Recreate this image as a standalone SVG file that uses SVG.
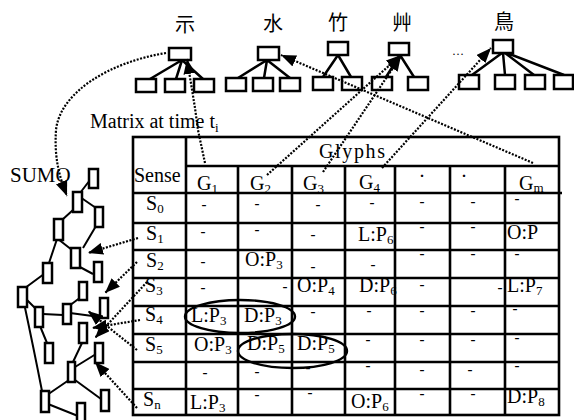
<svg xmlns="http://www.w3.org/2000/svg" width="574" height="420" viewBox="0 0 574 420">
  <style>
    .box { fill: #fff; stroke: #000; stroke-width: 2.5; }
    .edge { stroke: #000; stroke-width: 2.5; fill: none; }
    .tedge { stroke: #000; stroke-width: 2; fill: none; }
    .dot { stroke: #000; stroke-width: 2.2; stroke-dasharray: 2 1.5; fill: none; }
    .grid { stroke: #000; stroke-width: 2.6; fill: none; }
    .ring { stroke: #000; stroke-width: 2.4; fill: none; }
    text { font-family: "Liberation Serif", "Times New Roman", serif; fill: #000; }
    .t { font-size: 20px; }
    .sub { font-size: 13px; }
    .dash { font-size: 15px; font-weight: bold; text-anchor: middle; }
    .han { font-family: "Noto Sans CJK TC", "Noto Sans CJK SC", sans-serif; font-size: 20px; text-anchor: middle; }
  </style>
  <defs>
    <marker id="arrow" markerUnits="userSpaceOnUse" markerWidth="16" markerHeight="12" refX="15" refY="6" orient="auto">
      <path d="M0,0 L15,6 L0,12 z" fill="#000"/>
    </marker>
  </defs>

  <!-- glyph decomposition trees -->
  <g id="tree-shi">
    <text class="han" x="185" y="32">示</text>
    <path class="edge" d="M182,60 L150,79 M182,60 L176,79 M182,60 L203,79"/>
    <rect class="box" x="169" y="48" width="22" height="12"/>
    <rect class="box" x="136" y="79" width="20" height="13"/>
    <rect class="box" x="165" y="79" width="20" height="13"/>
    <rect class="box" x="194" y="79" width="20" height="13"/>
  </g>
  <g id="tree-shui">
    <text class="han" x="273" y="31">水</text>
    <path class="edge" d="M267,60 L238,78 M267,60 L264,78 M267,60 L290,78"/>
    <rect class="box" x="258" y="47" width="21" height="13"/>
    <rect class="box" x="226" y="78" width="20" height="13"/>
    <rect class="box" x="253" y="78" width="20" height="13"/>
    <rect class="box" x="280" y="78" width="20" height="13"/>
  </g>
  <g id="tree-zhu">
    <text class="han" x="338" y="30">竹</text>
    <path class="edge" d="M338,55 L323,77 M338,55 L351,77"/>
    <rect class="box" x="328" y="42" width="20" height="13"/>
    <rect class="box" x="313" y="77" width="20" height="13"/>
    <rect class="box" x="342" y="77" width="20" height="13"/>
  </g>
  <g id="tree-cao">
    <text class="han" x="402" y="30">艸</text>
    <path class="edge" d="M400,55 L386,77 M400,55 L414,77"/>
    <rect class="box" x="389" y="43" width="20" height="12"/>
    <rect class="box" x="372" y="77" width="20" height="13"/>
    <rect class="box" x="408" y="77" width="20" height="13"/>
  </g>
  <text x="452" y="55" style="font-size:12px">…</text>
  <g id="tree-niao">
    <text class="han" x="504" y="29">鳥</text>
    <path class="edge" d="M502,53 L472,75 M503,53 L505,75 M505,53 L534,75 M507,53 L564,75"/>
    <rect class="box" x="493" y="40" width="20" height="13"/>
    <rect class="box" x="459" y="75" width="20" height="14"/>
    <rect class="box" x="495" y="75" width="20" height="14"/>
    <rect class="box" x="525" y="75" width="20" height="14"/>
    <rect class="box" x="554" y="75" width="19" height="14"/>
  </g>

  <!-- SUMO ontology fragment -->
  <g id="sumo">
    <text x="10" y="182" style="font-size:21px">SUMO</text>
    <path class="tedge" d="M90,180 L80,193 M80,197 L96,208 M73,210 L62,220 M96,226 L83,248 M58,239 L72,250 M78,266 L93,274 M57,239 L49,263 M44,274 L25,288 M25,298 L35,308 M43,314 L63,315 M70,313 L100,317 M81,297 L69,306 M40,326 L47,343 M82,343 L73,362 M96,354 L75,367 M69,380 L47,395 M75,380 L101,399 M24,303 Q34,350 42,391 M48,404 L78,416"/>
    <rect class="box" x="89" y="169" width="9" height="19"/>
    <rect class="box" x="73" y="192" width="9" height="20"/>
    <rect class="box" x="95" y="207" width="8" height="20"/>
    <rect class="box" x="54" y="219" width="9" height="21"/>
    <rect class="box" x="71" y="248" width="9" height="20"/>
    <rect class="box" x="94" y="262" width="8" height="20"/>
    <rect class="box" x="43" y="263" width="9" height="20"/>
    <rect class="box" x="18" y="287" width="9" height="20"/>
    <rect class="box" x="79" y="282" width="8" height="18"/>
    <rect class="box" x="100" y="298" width="8" height="20"/>
    <rect class="box" x="35" y="307" width="8" height="20"/>
    <rect class="box" x="63" y="304" width="8" height="20"/>
    <rect class="box" x="79" y="323" width="8" height="20"/>
    <rect class="box" x="45" y="343" width="8" height="20"/>
    <rect class="box" x="95" y="343" width="8" height="20"/>
    <rect class="box" x="68" y="362" width="7" height="20"/>
    <rect class="box" x="41" y="391" width="8" height="21"/>
    <rect class="box" x="101" y="390" width="8" height="21"/>
    <rect class="box" x="77" y="403" width="8" height="19"/>
  </g>

  <!-- sense x glyph matrix -->
  <g id="matrix">
    <text class="t" x="90" y="128">Matrix at time t<tspan class="sub" dy="4">i</tspan></text>
    <rect class="grid" x="133" y="137" width="426" height="278"/>
    <path class="grid" d="M186,166 L559,166 M133,193 L562,193 M133,223 L559,223 M133,250 L559,250 M133,278 L559,278 M133,306 L559,306 M133,334 L559,334 M133,362 L559,362 M133,389 L559,389 M186,137 L186,415 M238,166 L238,415 M292,166 L292,415 M345,166 L345,415 M395,166 L395,415 M450,166 L450,415 M505,166 L505,415"/>

    <text class="t" x="134" y="182">Sense</text>
    <text class="t" x="319" y="158" textLength="66">Glyphs</text>
    <text class="t" x="197" y="190">G<tspan class="sub" dy="3">1</tspan></text>
    <text class="t" x="250" y="190">G<tspan class="sub" dy="3">2</tspan></text>
    <text class="t" x="303" y="190">G<tspan class="sub" dy="3">3</tspan></text>
    <text class="t" x="359" y="189">G<tspan class="sub" dy="3">4</tspan></text>
    <text class="dash" x="422" y="181">·</text>
    <text class="dash" x="464" y="181">·</text>
    <text class="t" x="519" y="190">G<tspan class="sub" dy="2">m</tspan></text>

    <text class="t" x="146" y="210">S<tspan class="sub" dy="3">0</tspan></text>
    <text class="t" x="146" y="240">S<tspan class="sub" dy="3">1</tspan></text>
    <text class="t" x="146" y="267">S<tspan class="sub" dy="3">2</tspan></text>
    <text class="t" x="145" y="292">S<tspan class="sub" dy="3">3</tspan></text>
    <text class="t" x="145" y="321">S<tspan class="sub" dy="3">4</tspan></text>
    <text class="t" x="145" y="351">S<tspan class="sub" dy="3">5</tspan></text>
    <text class="t" x="143" y="406">S<tspan class="sub" dy="3">n</tspan></text>

    <text class="t" x="358" y="241">L:P<tspan class="sub" dy="3">6</tspan></text>
    <text class="t" x="507" y="239">O:P</text>
    <text class="t" x="245" y="266">O:P<tspan class="sub" dy="3">3</tspan></text>
    <text class="t" x="297" y="292">O:P<tspan class="sub" dy="3">4</tspan></text>
    <text class="t" x="359" y="292">D:P<tspan class="sub" dy="3">6</tspan></text>
    <text class="t" x="507" y="292">L:P<tspan class="sub" dy="3">7</tspan></text>
    <text class="t" x="191" y="322">L:P<tspan class="sub" dy="3">3</tspan></text>
    <text class="t" x="244" y="322">D:P<tspan class="sub" dy="3">3</tspan></text>
    <text class="t" x="194" y="351">O:P<tspan class="sub" dy="3">3</tspan></text>
    <text class="t" x="247" y="350">D:P<tspan class="sub" dy="3">5</tspan></text>
    <text class="t" x="297" y="350">D:P<tspan class="sub" dy="3">5</tspan></text>
    <text class="t" x="190" y="409">L:P<tspan class="sub" dy="3">3</tspan></text>
    <text class="t" x="351" y="408">O:P<tspan class="sub" dy="3">6</tspan></text>
    <text class="t" x="507" y="403">D:P<tspan class="sub" dy="3">8</tspan></text>

    <!-- empty cells -->
    <text class="dash" x="204" y="209">-</text>
    <text class="dash" x="257" y="208">-</text>
    <text class="dash" x="318" y="209">-</text>
    <text class="dash" x="372" y="207">-</text>
    <text class="dash" x="422" y="206">-</text>
    <text class="dash" x="473" y="206">-</text>
    <text class="dash" x="517" y="203">-</text>

    <text class="dash" x="203" y="236">-</text>
    <text class="dash" x="257" y="234">-</text>
    <text class="dash" x="313" y="239">-</text>
    <text class="dash" x="422" y="231">-</text>
    <text class="dash" x="473" y="231">-</text>

    <text class="dash" x="203" y="266">-</text>
    <text class="dash" x="313" y="271">-</text>
    <text class="dash" x="373" y="269">-</text>
    <text class="dash" x="422" y="258">-</text>
    <text class="dash" x="473" y="258">-</text>
    <text class="dash" x="517" y="258">-</text>

    <text class="dash" x="203" y="292">-</text>
    <text class="dash" x="285" y="291">-</text>
    <text class="dash" x="422" y="289">-</text>
    <text class="dash" x="500" y="292">-</text>

    <text class="dash" x="313" y="316">-</text>
    <text class="dash" x="369" y="315">-</text>
    <text class="dash" x="422" y="315">-</text>
    <text class="dash" x="473" y="315">-</text>
    <text class="dash" x="515" y="313">-</text>

    <text class="dash" x="368" y="344">-</text>
    <text class="dash" x="422" y="344">-</text>
    <text class="dash" x="473" y="344">-</text>
    <text class="dash" x="517" y="342">-</text>

    <text class="dash" x="205" y="377">-</text>
    <text class="dash" x="257" y="376">-</text>
    <text class="dash" x="308" y="372">-</text>
    <text class="dash" x="368" y="370">-</text>
    <text class="dash" x="422" y="374">-</text>
    <text class="dash" x="470" y="374">-</text>
    <text class="dash" x="517" y="370">-</text>

    <text class="dash" x="257" y="399">-</text>
    <text class="dash" x="310" y="397">-</text>
    <text class="dash" x="422" y="398">-</text>
    <text class="dash" x="473" y="398">-</text>

    <ellipse class="ring" cx="240" cy="316.5" rx="55" ry="16.5"/>
    <ellipse class="ring" cx="292.5" cy="351" rx="54.5" ry="17"/>
  </g>

  <!-- dotted links -->
  <g id="links">
    <path class="dot" marker-end="url(#arrow)" d="M166,53 C110,62 60,92 56,130 C54,160 60,178 67,196"/>
    <path class="dot" marker-end="url(#arrow)" d="M205,163 L198,130 L195,108 L187,59"/>
    <path class="dot" marker-end="url(#arrow)" d="M267,175 L401,55"/>
    <path class="dot" marker-end="url(#arrow)" d="M323,172 L401,56"/>
    <path class="dot" marker-end="url(#arrow)" d="M382,168 L491,48"/>
    <path class="dot" marker-end="url(#arrow)" d="M533,163 L281,55"/>
    <path class="dot" marker-end="url(#arrow)" d="M138,238 L88,253"/>
    <path class="dot" marker-end="url(#arrow)" d="M137,262 L105,293"/>
    <path class="dot" marker-end="url(#arrow)" d="M147,282 L95,338"/>
    <path class="dot" marker-end="url(#arrow)" d="M140,320 L92,328"/>
    <path class="dot" marker-end="url(#arrow)" d="M137,350 L88,311"/>
    <path class="dot" marker-end="url(#arrow)" d="M137,408 L95,362"/>
  </g>
</svg>
